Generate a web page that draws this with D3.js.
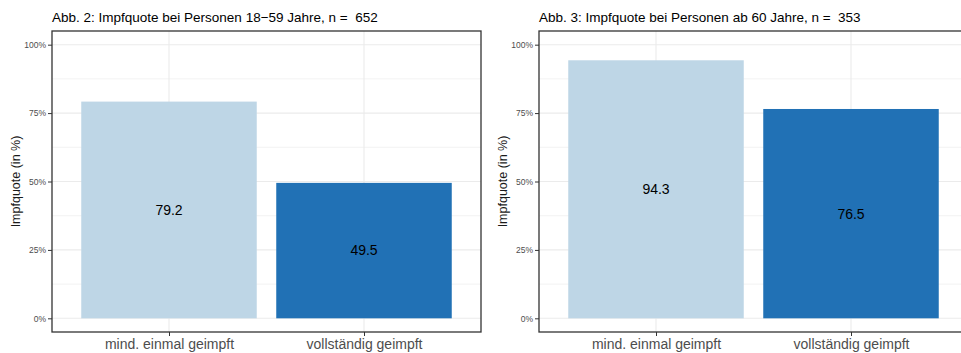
<!DOCTYPE html>
<html><head><meta charset="utf-8">
<script src="https://cdn.jsdelivr.net/npm/d3@7"></script>
<style>
html,body{margin:0;padding:0;background:#fff;}
svg{display:block;font-family:"Liberation Sans",Arial,sans-serif;}
</style></head>
<body><svg id="chart" width="961" height="353"></svg>
<script>
const categories = ["mind. einmal geimpft", "vollständig geimpft"];
const valuesYoung = [79.2, 49.5];
const valuesOld = [94.3, 76.5];
const titles = ["Abb. 2: Impfquote bei Personen 18\u221259 Jahre, n =  652",
                "Abb. 3: Impfquote bei Personen ab 60 Jahre, n =  353"];
const yTicks = [0, 25, 50, 75, 100];
const yTickLabels = ["0%", "25%", "50%", "75%", "100%"];
const yMinor = [12.5, 37.5, 62.5, 87.5];
const yTitle = "Impfquote (in %)";
const colors = ["#bed6e6", "#2171b5"];

const svg = d3.select("#chart");
const panels = [{off: 0, vals: valuesYoung, title: titles[0]},
                {off: 487, vals: valuesOld, title: titles[1]}];

panels.forEach(p => {
  const g = svg.append("g").attr("transform", `translate(${p.off},0)`);
  const L = 52, R = 481, T = 31, B = 332;
  const x = d3.scalePoint().domain(categories).range([L, R]).padding(0.6);
  const step = x.step();
  const y = d3.scaleLinear().domain([-5, 105]).range([B, T]);

  // gridlines
  g.selectAll(".minor").data(yMinor).join("line")
    .attr("x1", L).attr("x2", R).attr("y1", d => y(d)).attr("y2", d => y(d))
    .attr("stroke", "#ebebeb").attr("stroke-width", 0.6);
  g.selectAll(".major").data(yTicks).join("line")
    .attr("x1", L).attr("x2", R).attr("y1", d => y(d)).attr("y2", d => y(d))
    .attr("stroke", "#ebebeb").attr("stroke-width", 1.1);
  g.selectAll(".vmajor").data(categories).join("line")
    .attr("x1", d => x(d)).attr("x2", d => x(d)).attr("y1", T).attr("y2", B)
    .attr("stroke", "#ebebeb").attr("stroke-width", 1.1);

  // bars
  const bw = step * 0.9;
  g.selectAll(".bar").data(p.vals).join("rect")
    .attr("x", (d, i) => x(categories[i]) - bw / 2)
    .attr("width", bw)
    .attr("y", d => y(d))
    .attr("height", d => y(0) - y(d))
    .attr("fill", (d, i) => colors[i]);

  // value labels
  g.selectAll(".val").data(p.vals).join("text")
    .attr("x", (d, i) => x(categories[i]))
    .attr("y", d => y(d / 2))
    .attr("dy", "0.35em")
    .attr("text-anchor", "middle")
    .attr("font-size", 14).attr("fill", "#000")
    .text(d => d.toFixed(1));

  // border
  g.append("rect").attr("x", L).attr("y", T).attr("width", R - L).attr("height", B - T)
    .attr("fill", "none").attr("stroke", "#333").attr("stroke-width", 1.3);

  // y axis
  const ya = d3.axisLeft(y).tickValues(yTicks).tickFormat((d, i) => yTickLabels[i])
    .tickSizeInner(4).tickSizeOuter(0).tickPadding(2);
  const yg = g.append("g").attr("transform", `translate(${L},0)`).call(ya);
  yg.select(".domain").remove();
  yg.selectAll("line").attr("stroke", "#333");
  yg.selectAll("text").attr("font-size", 8.5).attr("fill", "#4d4d4d")
    .attr("font-family", "'Liberation Sans',Arial,sans-serif");

  // x axis
  const xa = d3.axisBottom(x).tickSizeInner(4).tickSizeOuter(0).tickPadding(3);
  const xg = g.append("g").attr("transform", `translate(0,${B})`).call(xa);
  xg.select(".domain").remove();
  xg.selectAll("line").attr("stroke", "#333");
  xg.selectAll("text").attr("font-size", 14).attr("fill", "#4d4d4d")
    .attr("font-family", "'Liberation Sans',Arial,sans-serif");

  // y title
  g.append("text")
    .attr("transform", `translate(${19.5},${(T + B) / 2}) rotate(-90)`)
    .attr("text-anchor", "middle").attr("font-size", 12.5).attr("fill", "#1a1a1a")
    .text(yTitle);

  // title
  g.append("text").attr("x", L).attr("y", 21.5)
    .attr("font-size", 13.5).attr("fill", "#000")
    .style("white-space", "pre")
    .text(p.title);
});
</script></body></html>
